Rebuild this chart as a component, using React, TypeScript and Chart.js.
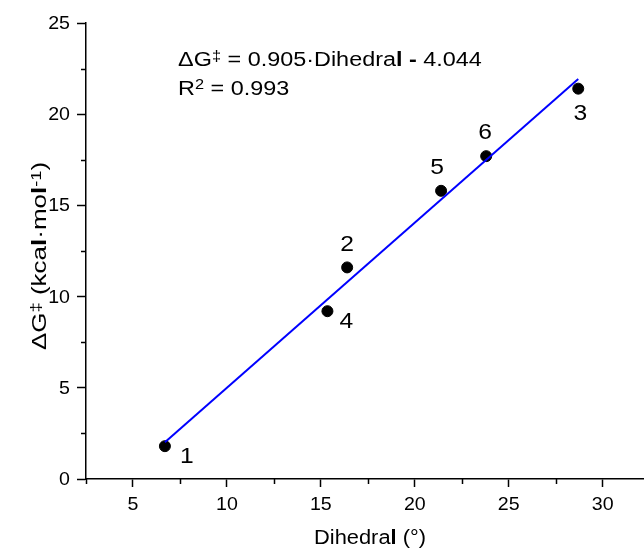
import React, { useEffect, useRef } from "react";
import { Chart, registerables } from "chart.js";

Chart.register(...registerables);

// ---- data ----
const dihedral = [6.7, 15.35, 16.4, 21.4, 23.8, 28.7];
const deltaG = [1.8, 9.2, 11.6, 15.8, 17.7, 21.4];
const compoundLabels = ["1", "4", "2", "5", "6", "3"];
const fitSlope = 0.905;
const fitIntercept = -4.044;
const xMajorTicks = [5, 10, 15, 20, 25, 30];
const xMinorTicks = [2.5, 7.5, 12.5, 17.5, 22.5, 27.5];
const yMajorTicks = [0, 5, 10, 15, 20, 25];
const yMinorTicks = [2.5, 7.5, 12.5, 17.5, 22.5];

// ---- style ----
const labelOffsets: [number, number][] = [
  [22, 9],
  [19, 9],
  [0, -24],
  [-4, -25],
  [-1, -25],
  [2, 23],
];
const FONT = "'Liberation Sans', Arial, Helvetica, sans-serif";
const STRETCH = 1.12;

type Run = { t: string; sup?: boolean; bold?: boolean };

function runFont(r: Run, size: number) {
  const s = r.sup ? size * 0.7 : size;
  return `${r.bold ? "bold " : ""}${s}px ${FONT}`;
}

function drawRuns(
  ctx: CanvasRenderingContext2D,
  runs: Run[],
  x: number,
  y: number,
  size: number,
  align: "left" | "center" | "right",
  sx: number
) {
  ctx.save();
  ctx.textBaseline = "alphabetic";
  ctx.textAlign = "left";
  let total = 0;
  const widths = runs.map((r) => {
    ctx.font = runFont(r, size);
    const w = ctx.measureText(r.t).width;
    total += w;
    return w;
  });
  ctx.translate(x, y);
  ctx.scale(sx, 1);
  let cx = align === "center" ? -total / 2 : align === "right" ? -total : 0;
  runs.forEach((r, i) => {
    ctx.font = runFont(r, size);
    ctx.fillText(r.t, cx, r.sup ? -size * 0.27 : 0);
    cx += widths[i];
  });
  ctx.restore();
}

const overlayPlugin = {
  id: "overlay",
  afterDraw(chart: any) {
    const ctx: CanvasRenderingContext2D = chart.ctx;
    const xs = chart.scales.x;
    const ys = chart.scales.y;
    const area = chart.chartArea;
    ctx.save();
    ctx.strokeStyle = "#000";
    ctx.lineWidth = 1.5;
    // minor ticks
    ctx.beginPath();
    xMinorTicks.forEach((v) => {
      const px = Math.round(xs.getPixelForValue(v)) + 0.5;
      ctx.moveTo(px, area.bottom);
      ctx.lineTo(px, area.bottom + 5);
    });
    yMinorTicks.forEach((v) => {
      const py = Math.round(ys.getPixelForValue(v)) + 0.5;
      ctx.moveTo(area.left, py);
      ctx.lineTo(area.left - 5, py);
    });
    ctx.stroke();

    ctx.fillStyle = "#000";
    // tick labels
    xMajorTicks.forEach((v) => {
      drawRuns(ctx, [{ t: String(v) }], xs.getPixelForValue(v), 510, 17.5, "center", STRETCH);
    });
    yMajorTicks.forEach((v) => {
      drawRuns(ctx, [{ t: String(v) }], 70, ys.getPixelForValue(v) + 6, 17.5, "right", STRETCH);
    });

    // point labels
    compoundLabels.forEach((lab, i) => {
      const px = xs.getPixelForValue(dihedral[i]) + labelOffsets[i][0];
      const py = ys.getPixelForValue(deltaG[i]) + labelOffsets[i][1];
      drawRuns(ctx, [{ t: lab }], px, py + 8, 22, "center", STRETCH);
    });

    // equation annotation
    const ax = xs.getPixelForValue(7.4);
    const ay = ys.getPixelForValue(22.63);
    drawRuns(
      ctx,
      [
        { t: "ΔG" },
        { t: "‡", sup: true },
        { t: " = 0.905·Dihedra" },
        { t: "l -", bold: true },
        { t: " 4.044" },
      ],
      ax,
      ay,
      20,
      "left",
      1.17
    );
    drawRuns(
      ctx,
      [{ t: "R" }, { t: "2", sup: true }, { t: " = 0.993" }],
      ax,
      ay + 28.3,
      20,
      "left",
      1.17
    );

    // x axis title
    drawRuns(
      ctx,
      [{ t: "Dihedra" }, { t: "l", bold: true }, { t: " (°)" }],
      370,
      544,
      19.5,
      "center",
      STRETCH
    );

    // y axis title
    ctx.save();
    ctx.translate(46, 256);
    ctx.rotate(-Math.PI / 2);
    drawRuns(
      ctx,
      [
        { t: "ΔG" },
        { t: "‡", sup: true },
        { t: " (kca" },
        { t: "l", bold: true },
        { t: "·mo" },
        { t: "l", bold: true },
        { t: "-1", sup: true },
        { t: ")" },
      ],
      0,
      0,
      20,
      "center",
      1.3
    );
    ctx.restore();
    ctx.restore();
  },
};

export default function App() {
  const ref = useRef<HTMLCanvasElement | null>(null);
  useEffect(() => {
    if (!ref.current) return;
    const xMin = Math.min(...dihedral);
    const xMax = Math.max(...dihedral);
    const chart = new Chart(ref.current, {
      type: "scatter",
      data: {
        datasets: [
          {
            type: "line",
            data: [
              { x: xMin, y: fitSlope * xMin + fitIntercept },
              { x: xMax, y: fitSlope * xMax + fitIntercept },
            ],
            borderColor: "#0000ff",
            borderWidth: 2,
            pointRadius: 0,
            fill: false,
          } as any,
          {
            data: dihedral.map((x, i) => ({ x, y: deltaG[i] })),
            backgroundColor: "#000",
            borderColor: "#000",
            pointRadius: 5.5,
            pointHoverRadius: 5.5,
          },
        ],
      },
      options: {
        animation: false,
        responsive: false,
        devicePixelRatio: 1,
        events: [],
        layout: { autoPadding: false, padding: { top: 23, left: 0, right: 0, bottom: 0 } },
        plugins: { legend: { display: false }, tooltip: { enabled: false } },
        scales: {
          x: {
            type: "linear",
            min: 2.5,
            max: 32.2,
            afterBuildTicks: (s: any) => {
              s.ticks = xMajorTicks.map((v) => ({ value: v }));
            },
            afterFit: (s: any) => {
              s.height = 71;
              s.paddingLeft = 0;
              s.paddingRight = 0;
            },
            border: { color: "#000", width: 1.5 },
            grid: {
              drawOnChartArea: false,
              color: "#000",
              tickLength: 8,
              tickWidth: 1.5,
            },
            ticks: { display: false },
          },
          y: {
            type: "linear",
            min: 0,
            max: 25,
            afterBuildTicks: (s: any) => {
              s.ticks = yMajorTicks.map((v) => ({ value: v }));
            },
            afterFit: (s: any) => {
              s.width = 86;
              s.paddingTop = 0;
              s.paddingBottom = 0;
            },
            border: { color: "#000", width: 1.5 },
            grid: {
              drawOnChartArea: false,
              color: "#000",
              tickLength: 9,
              tickWidth: 1.5,
            },
            ticks: { display: false },
          },
        },
      },
      plugins: [overlayPlugin],
    });
    return () => chart.destroy();
  }, []);
  return (
    <div style={{ position: "absolute", left: 0, top: 0, width: 644, height: 550, background: "#fff" }}>
      <canvas ref={ref} width={644} height={550} />
    </div>
  );
}
